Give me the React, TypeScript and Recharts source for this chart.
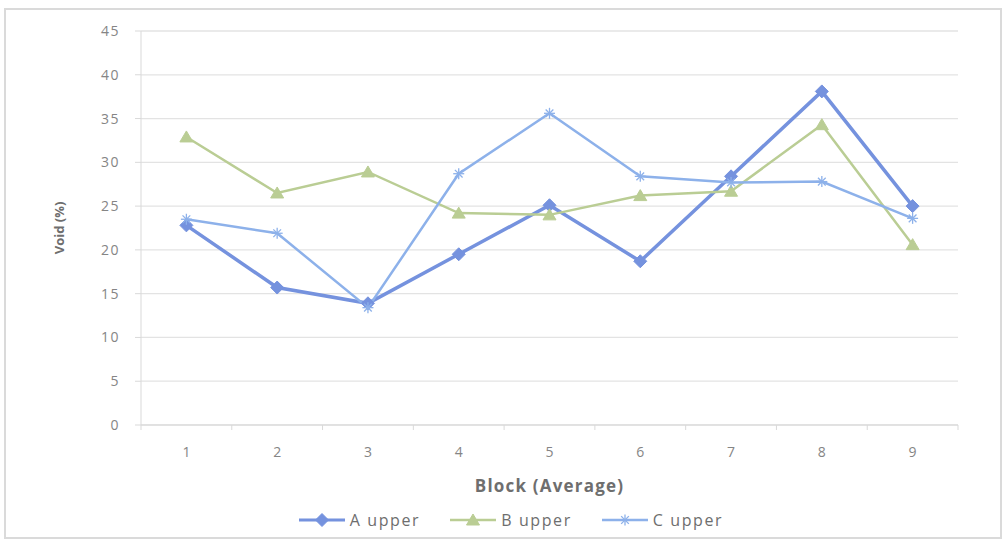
import React from 'react';
import { LineChart, Line, XAxis, YAxis, CartesianGrid, Legend, Label } from 'recharts';

// Block numbers along the horizontal axis
const blocks = [1, 2, 3, 4, 5, 6, 7, 8, 9];

// Average void content (%) for each block
const aUpper = [22.8, 15.7, 13.9, 19.5, 25.1, 18.7, 28.4, 38.1, 25.0];
const bUpper = [32.9, 26.5, 28.9, 24.2, 24.0, 26.2, 26.7, 34.3, 20.6];
const cUpper = [23.5, 21.9, 13.4, 28.7, 35.6, 28.4, 27.7, 27.8, 23.6];

const yTicks = [0, 5, 10, 15, 20, 25, 30, 35, 40, 45];
const seriesNames = ['A upper', 'B upper', 'C upper'];

const data = blocks.map((b, i) => ({
  block: b,
  a: aUpper[i],
  b: bUpper[i],
  c: cUpper[i],
}));

const W = 1007;
const H = 542;
const MARGIN = { top: 31, right: 49, bottom: 7, left: 0 };
const Y_AXIS_W = 141;
const PLOT_W = W - MARGIN.right - Y_AXIS_W;
const BAND = PLOT_W / blocks.length;

const COLOR_A = '#7592de';
const COLOR_B = '#bacd94';
const COLOR_C = '#8db1ea';
const TEXT = '#6e6e6e';
const TICK_TEXT = '#858585';
const FONT = '"Open Sans", Lato, sans-serif';

const Diamond = (props: any) => {
  const { cx, cy } = props;
  if (cx == null || cy == null) return null;
  const r = 6.5;
  return (
    <polygon
      points={`${cx},${cy - r} ${cx + r},${cy} ${cx},${cy + r} ${cx - r},${cy}`}
      fill={COLOR_A}
      stroke={COLOR_A}
      strokeWidth={1}
    />
  );
};

const Triangle = (props: any) => {
  const { cx, cy } = props;
  if (cx == null || cy == null) return null;
  return (
    <polygon
      points={`${cx},${cy - 6} ${cx + 6.5},${cy + 5} ${cx - 6.5},${cy + 5}`}
      fill={COLOR_B}
      stroke={COLOR_B}
      strokeWidth={1}
    />
  );
};

const Star = (props: any) => {
  const { cx, cy } = props;
  if (cx == null || cy == null) return null;
  const r = 5.5;
  return (
    <g stroke={COLOR_C} strokeWidth={1.3}>
      <line x1={cx - r} y1={cy} x2={cx + r} y2={cy} />
      <line x1={cx} y1={cy - r} x2={cx} y2={cy + r} />
      <line x1={cx - r * 0.7} y1={cy - r * 0.7} x2={cx + r * 0.7} y2={cy + r * 0.7} />
      <line x1={cx - r * 0.7} y1={cy + r * 0.7} x2={cx + r * 0.7} y2={cy - r * 0.7} />
    </g>
  );
};

// Category label with the small boundary tick marks between blocks
const XTick = (props: any) => {
  const { x, y, payload, index } = props;
  const last = index === blocks.length - 1;
  return (
    <g>
      <line x1={x - BAND / 2} y1={y} x2={x - BAND / 2} y2={y + 5} stroke="#d9d9d9" />
      {last && <line x1={x + BAND / 2} y1={y} x2={x + BAND / 2} y2={y + 5} stroke="#d9d9d9" />}
      <text
        x={x}
        y={y + 32}
        textAnchor="middle"
        fill={TICK_TEXT}
        fontSize={14}
        fontFamily={FONT}
      >
        {payload.value}
      </text>
    </g>
  );
};

const legendItems = [
  { name: seriesNames[0], color: COLOR_A, Marker: Diamond, width: 3 },
  { name: seriesNames[1], color: COLOR_B, Marker: Triangle, width: 2.5 },
  { name: seriesNames[2], color: COLOR_C, Marker: Star, width: 2.5 },
];

const LegendContent = () => (
  <div
    style={{
      display: 'flex',
      justifyContent: 'center',
      alignItems: 'center',
      gap: 30,
      paddingLeft: 64,
      height: 30,
      fontFamily: FONT,
      fontSize: 16,
      letterSpacing: 1.6,
      color: TEXT,
    }}
  >
    {legendItems.map(({ name, color, Marker, width }) => (
      <div key={name} style={{ display: 'flex', alignItems: 'center', gap: 5 }}>
        <svg width={46} height={14}>
          <line x1={0} y1={7} x2={46} y2={7} stroke={color} strokeWidth={width} />
          <Marker cx={23} cy={7} />
        </svg>
        <span>{name}</span>
      </div>
    ))}
  </div>
);

export default function App() {
  return (
    <div
      style={{
        position: 'absolute',
        left: 0,
        top: 0,
        width: W,
        height: H,
        background: '#fff',
      }}
    >
      <div
        style={{
          position: 'absolute',
          left: 4,
          top: 8,
          width: 998,
          height: 531,
          border: '2px solid #dadada',
          boxSizing: 'border-box',
        }}
      />
      <LineChart width={W} height={H} data={data} margin={MARGIN}>
        <CartesianGrid horizontal vertical={false} stroke="#e3e3e3" strokeWidth={1.3} />
        <XAxis
          dataKey="block"
          type="number"
          domain={[0.5, 9.5]}
          ticks={blocks}
          interval={0}
          height={80}
          tickSize={0}
          tickMargin={0}
          tickLine={false}
          axisLine={{ stroke: '#d9d9d9' }}
          tick={<XTick />}
        >
          <Label
            content={({ viewBox }: any) => (
              <text
                x={viewBox.x + viewBox.width / 2}
                y={viewBox.y + 67}
                textAnchor="middle"
                fill={TEXT}
                fontSize={17}
                fontWeight="bold"
                letterSpacing={1.2}
                fontFamily={FONT}
              >
                Block (Average)
              </text>
            )}
          />
        </XAxis>
        <YAxis
          width={Y_AXIS_W}
          domain={[0, 45]}
          ticks={yTicks}
          interval={0}
          tickSize={6}
          tickMargin={15}
          tickLine={{ stroke: '#d9d9d9' }}
          axisLine={{ stroke: '#d9d9d9' }}
          tick={{ fill: TICK_TEXT, fontSize: 14, fontFamily: FONT, letterSpacing: 1.5 }}
        >
          <Label
            content={({ viewBox }: any) => {
              const cx = viewBox.x + 61;
              const cy = viewBox.y + viewBox.height / 2;
              return (
                <text
                  x={cx}
                  y={cy}
                  transform={`rotate(-90 ${cx} ${cy})`}
                  textAnchor="middle"
                  dominantBaseline="middle"
                  fill={TEXT}
                  fontSize={13}
                  fontWeight="bold"
                  fontFamily={FONT}
                >
                  Void (%)
                </text>
              );
            }}
          />
        </YAxis>
        <Legend verticalAlign="bottom" height={30} content={<LegendContent />} />
        <Line
          dataKey="a"
          name={seriesNames[0]}
          stroke={COLOR_A}
          strokeWidth={3.5}
          dot={<Diamond />}
          activeDot={false}
          isAnimationActive={false}
        />
        <Line
          dataKey="b"
          name={seriesNames[1]}
          stroke={COLOR_B}
          strokeWidth={2.5}
          dot={<Triangle />}
          activeDot={false}
          isAnimationActive={false}
        />
        <Line
          dataKey="c"
          name={seriesNames[2]}
          stroke={COLOR_C}
          strokeWidth={2.5}
          dot={<Star />}
          activeDot={false}
          isAnimationActive={false}
        />
      </LineChart>
    </div>
  );
}
